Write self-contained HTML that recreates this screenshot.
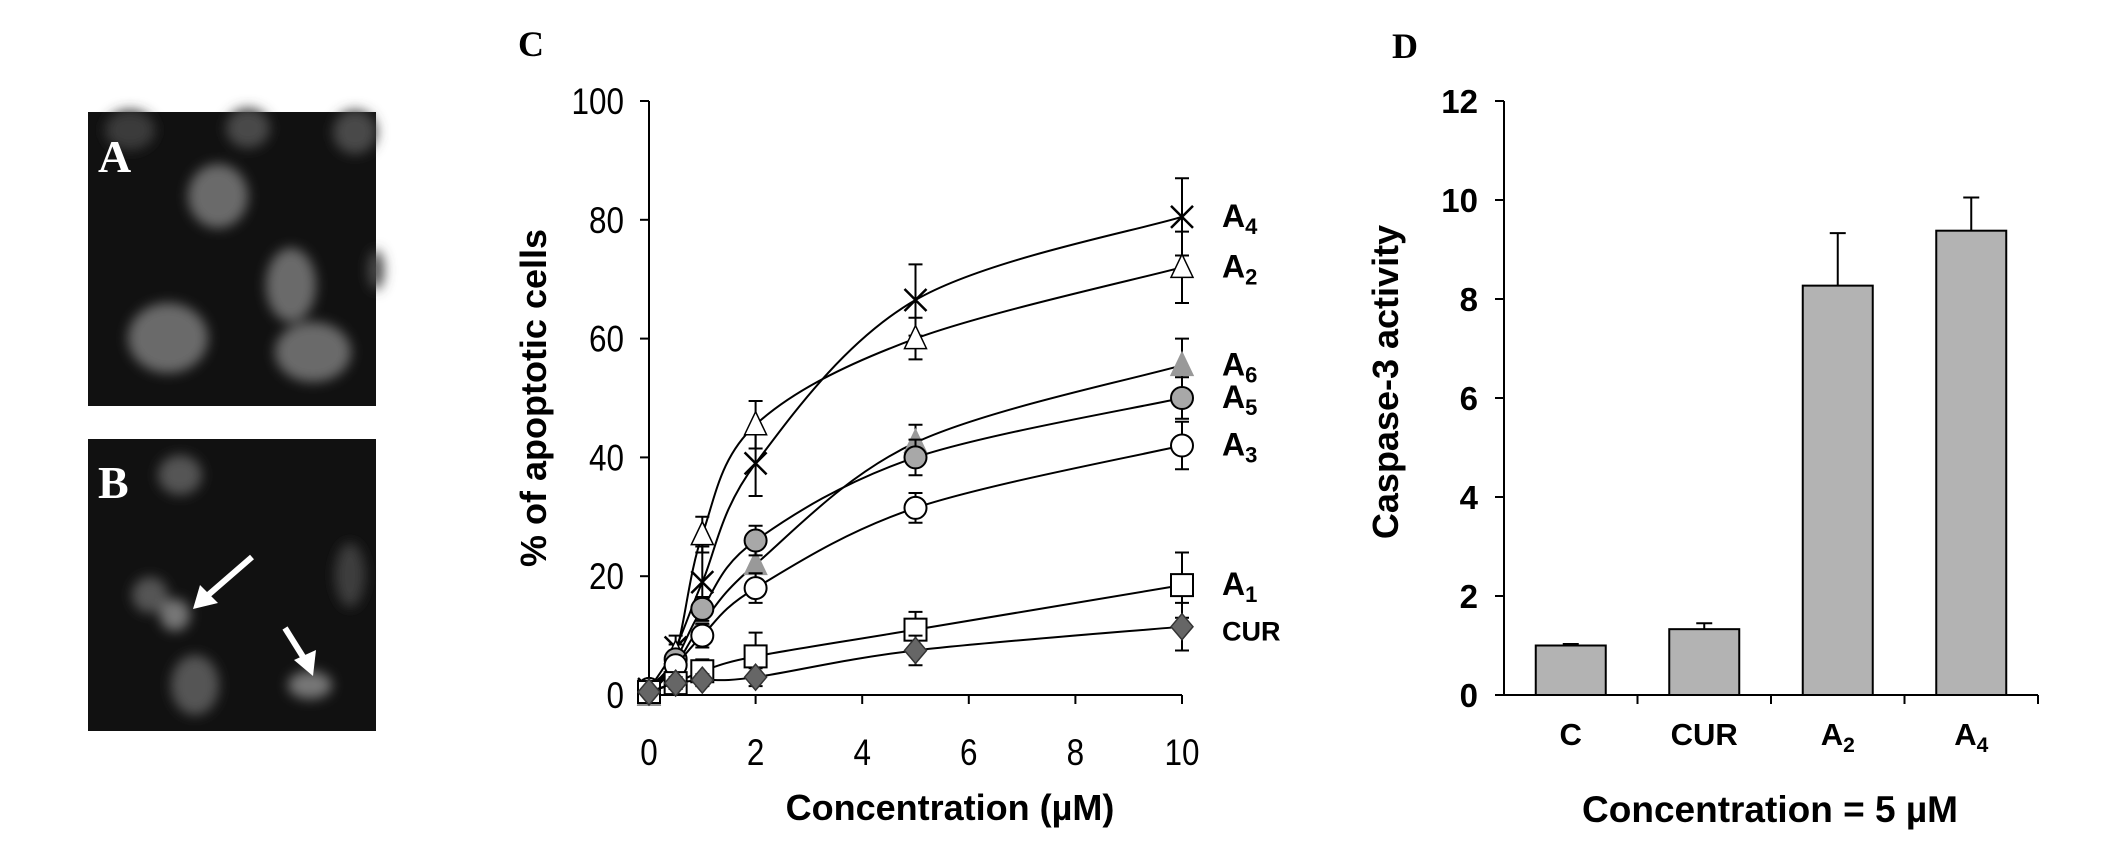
<!DOCTYPE html>
<html><head><meta charset="utf-8">
<style>
html,body{margin:0;padding:0;background:#fff;}
svg{display:block;}
</style></head>
<body>
<svg id="fig" width="2126" height="857" viewBox="0 0 2126 857" xmlns="http://www.w3.org/2000/svg">
<defs>
<filter id="blur" x="-50%" y="-50%" width="200%" height="200%"><feGaussianBlur stdDeviation="6"/></filter>
</defs>
<g>
<rect x="88" y="112" width="288" height="294" fill="#111"/>
<g filter="url(#blur)" fill="#6a6a6a">
<ellipse cx="218" cy="196" rx="30" ry="32"/>
<ellipse cx="291" cy="285" rx="25" ry="37"/>
<ellipse cx="168" cy="338" rx="40" ry="35"/>
<ellipse cx="313" cy="352" rx="38" ry="30"/>
<ellipse cx="248" cy="128" rx="22" ry="20" fill="#4a4a4a"/>
<ellipse cx="355" cy="132" rx="22" ry="22" fill="#4a4a4a"/>
<ellipse cx="376" cy="270" rx="8" ry="20" fill="#4a4a4a"/>
<ellipse cx="130" cy="130" rx="25" ry="20" fill="#3a3a3a"/>
</g>
<text x="98" y="172" font-family="Liberation Serif, serif" font-weight="bold" font-size="46" fill="#fff">A</text>
</g>
<g>
<rect x="88" y="439" width="288" height="292" fill="#111"/>
<g filter="url(#blur)" fill="#555">
<ellipse cx="180" cy="475" rx="22" ry="20"/>
<ellipse cx="150" cy="595" rx="18" ry="18"/>
<ellipse cx="175" cy="615" rx="15" ry="16" fill="#777"/>
<ellipse cx="195" cy="685" rx="24" ry="30"/>
<ellipse cx="310" cy="685" rx="22" ry="14" fill="#777"/>
<ellipse cx="350" cy="575" rx="15" ry="32" fill="#3c3c3c"/>
</g>
<text x="98" y="498" font-family="Liberation Serif, serif" font-weight="bold" font-size="46" fill="#fff">B</text>
<path d="M252,557 L207,596" stroke="#fff" stroke-width="6"/>
<polygon points="193,609 200,585 218,603" fill="#fff"/>
<path d="M285,628 L305,660" stroke="#fff" stroke-width="6"/>
<polygon points="313,676 294,660 316,650" fill="#fff"/>
</g>
<text x="518" y="56" font-family="Liberation Serif, serif" font-weight="bold" font-size="36">C</text>
<text x="1392" y="58" font-family="Liberation Serif, serif" font-weight="bold" font-size="36">D</text>
<g id="chartC"></g>
<g id="chartD"></g>
</svg>
<script>
// ---- Chart C data ----
const concs = [0, 0.5, 1, 2, 5, 10];
const xTicksC = [0, 2, 4, 6, 8, 10];
const yTicksC = [0, 20, 40, 60, 80, 100];
const seriesNames = ['A4', 'A2', 'A6', 'A5', 'A3', 'A1', 'CUR'];
const valA4 = [1, 8, 19, 39, 66.5, 80.5];
const errA4 = [0, 2, 6, 5.5, 6, 6.5];
const valA2 = [0, 7, 27, 45.5, 60, 72];
const errA2 = [0, 1.5, 3, 4, 3.5, 6];
const valA6 = [0, 5, 12, 22, 42.5, 55.5];
const errA6 = [0, 1, 2, 3, 3, 4.5];
const valA5 = [1, 6, 14.5, 26, 40, 50];
const errA5 = [0, 1, 2, 2.5, 3, 3.5];
const valA3 = [1, 5, 10, 18, 31.5, 42];
const errA3 = [0, 1, 2, 2.5, 2.5, 4];
const valA1 = [0.5, 2, 4, 6.5, 11, 18.5];
const errA1 = [0, 1, 2, 4, 3, 5.5];
const valCUR = [0.5, 2, 2.5, 3, 7.5, 11.5];
const errCUR = [0, 1, 1, 1.5, 2.5, 4];
// ---- Chart D data ----
const groups = ['C', 'CUR', 'A2', 'A4'];
const caspase = [1.0, 1.33, 8.27, 9.38];
const caspaseErr = [0.03, 0.12, 1.06, 0.67];
const yTicksD = [0, 2, 4, 6, 8, 10, 12];

const NS = 'http://www.w3.org/2000/svg';
function mk(tag, attrs, parent, txt) {
  const e = document.createElementNS(NS, tag);
  for (const k in attrs) e.setAttribute(k, attrs[k]);
  if (txt !== undefined) e.textContent = txt;
  parent.appendChild(e);
  return e;
}
const C = document.getElementById('chartC');
const X0 = 649, X1 = 1182, Y0 = 695, Y1 = 101;
const sx = v => X0 + v / 10 * (X1 - X0);
const sy = v => Y0 - v / 100 * (Y0 - Y1);
const tickFont = 'Liberation Sans, Arial, sans-serif';

let ax = mk('path', {d: `M${X0},${Y1} V${Y0} H${X1}`, stroke: '#000', 'stroke-width': 2, fill: 'none'}, C);


yTicksC.forEach(t => {
  mk('line', {x1: X0 - 9, x2: X0, y1: sy(t), y2: sy(t), stroke: '#000', 'stroke-width': 2}, C);
  const l = mk('text', {x: 624 / 0.85, y: sy(t) + 13, 'text-anchor': 'end', 'font-family': tickFont, 'font-size': 37, transform: 'scale(0.85,1)'}, C, t);
  
  
});
xTicksC.forEach(t => {
  mk('line', {x1: sx(t), x2: sx(t), y1: Y0, y2: Y0 + 9, stroke: '#000', 'stroke-width': 2}, C);
  const l = mk('text', {x: sx(t) / 0.85, y: 765, 'text-anchor': 'middle', 'font-family': tickFont, 'font-size': 37, transform: 'scale(0.85,1)'}, C, t);
  
  
});
let xt = mk('text', {x: 950, y: 820, 'text-anchor': 'middle', 'font-family': tickFont, 'font-weight': 'bold', 'font-size': 36}, C, 'Concentration (µM)');


let yt = mk('text', {x: 0, y: 0, 'text-anchor': 'middle', 'font-family': tickFont, 'font-weight': 'bold', 'font-size': 36, transform: 'translate(546,398) rotate(-90)'}, C, '% of apoptotic cells');



function smoothPath(pts) {
  let d = `M${pts[0][0]},${pts[0][1]}`;
  for (let i = 0; i < pts.length - 1; i++) {
    const p0 = pts[Math.max(0, i - 1)], p1 = pts[i], p2 = pts[i + 1], p3 = pts[Math.min(pts.length - 1, i + 2)];
    const c1 = [p1[0] + (p2[0] - p0[0]) / 6, p1[1] + (p2[1] - p0[1]) / 6];
    const c2 = [p2[0] - (p3[0] - p1[0]) / 6, p2[1] - (p3[1] - p1[1]) / 6];
    d += ` C${c1[0]},${c1[1]} ${c2[0]},${c2[1]} ${p2[0]},${p2[1]}`;
  }
  return d;
}
function marker(g, kind, x, y) {
  const r = 11;
  if (kind === 'x') {
    mk('path', {d: `M${x-r},${y-r} L${x+r},${y+r} M${x-r},${y+r} L${x+r},${y-r}`, stroke: '#000', 'stroke-width': 2.5}, g);
  } else if (kind === 'triOpen' || kind === 'triGray') {
    mk('polygon', {points: `${x},${y-r-2} ${x+r},${y+r-1} ${x-r},${y+r-1}`, fill: kind === 'triOpen' ? '#fff' : '#999', stroke: kind === 'triOpen' ? '#000' : '#999', 'stroke-width': 1.5}, g);
  } else if (kind === 'circGray' || kind === 'circOpen') {
    mk('circle', {cx: x, cy: y, r: r, fill: kind === 'circOpen' ? '#fff' : '#a8a8a8', stroke: '#000', 'stroke-width': 2}, g);
  } else if (kind === 'square') {
    mk('rect', {x: x - r, y: y - r, width: 2 * r, height: 2 * r, fill: '#fff', stroke: '#000', 'stroke-width': 2}, g);
  } else if (kind === 'diamond') {
    mk('polygon', {points: `${x},${y-r-2} ${x+r},${y} ${x},${y+r+2} ${x-r},${y}`, fill: '#666', stroke: '#333', 'stroke-width': 1.5}, g);
  }
}
const seriesVals = [valA4, valA2, valA6, valA5, valA3, valA1, valCUR];
const seriesErrs = [errA4, errA2, errA6, errA5, errA3, errA1, errCUR];
const kinds = ['x', 'triOpen', 'triGray', 'circGray', 'circOpen', 'square', 'diamond'];
const labelDy = [0, 0, 0, 0, 0, 0, 4];
seriesNames.forEach((name, si) => {
  const g = mk('g', {}, C);
  
  
  const vals = seriesVals[si], errs = seriesErrs[si];
  const pts = concs.map((c, i) => [sx(c), sy(vals[i])]);
  mk('path', {d: smoothPath(pts), stroke: '#000', 'stroke-width': 2, fill: 'none'}, g);
  concs.forEach((c, i) => {
    if (errs[i] > 0) {
      const x = sx(c);
      mk('path', {d: `M${x},${sy(vals[i]-errs[i])} V${sy(vals[i]+errs[i])} M${x-7},${sy(vals[i]+errs[i])} H${x+7} M${x-7},${sy(vals[i]-errs[i])} H${x+7}`, stroke: '#000', 'stroke-width': 2, fill: 'none'}, g);
    }
  });
  concs.forEach((c, i) => marker(g, kinds[si], sx(c), sy(vals[i])));
  const ly = sy(vals[vals.length - 1]) + 10 + labelDy[si];
  const lab = mk('text', {x: 1222, y: ly, 'font-family': tickFont, 'font-weight': 'bold', 'font-size': name === 'CUR' ? 27 : 32}, g);
  
  
  if (name === 'CUR') { lab.textContent = 'CUR'; }
  else {
    mk('tspan', {}, lab, name[0]);
    mk('tspan', {dy: 7, 'font-size': 22}, lab, name.slice(1));
  }
});

// ---- Chart D ----
const D = document.getElementById('chartD');
const DX0 = 1504, DX1 = 2038, DY0 = 695, DY1 = 101;
const dy = v => DY0 - v / 12 * (DY0 - DY1);
const band = (DX1 - DX0) / groups.length;
let dax = mk('path', {d: `M${DX0},${DY1} V${DY0} H${DX1}`, stroke: '#000', 'stroke-width': 2, fill: 'none'}, D);


yTicksD.forEach(t => {
  mk('line', {x1: DX0 - 9, x2: DX0, y1: dy(t), y2: dy(t), stroke: '#000', 'stroke-width': 2}, D);
  const l = mk('text', {x: 1478, y: dy(t) + 12, 'text-anchor': 'end', 'font-family': tickFont, 'font-weight': 'bold', 'font-size': 33}, D, t);
  
  
});
for (let i = 1; i <= groups.length; i++) {
  mk('line', {x1: DX0 + i * band, x2: DX0 + i * band, y1: DY0, y2: DY0 + 9, stroke: '#000', 'stroke-width': 2}, D);
}
groups.forEach((g, i) => {
  const cx = DX0 + band * (i + 0.5), bw = 70;
  const bar = mk('rect', {x: cx - bw / 2, y: dy(caspase[i]), width: bw, height: DY0 - dy(caspase[i]), fill: '#b3b3b3', stroke: '#000', 'stroke-width': 2}, D);
  
  
  const top = caspase[i] + caspaseErr[i];
  mk('path', {d: `M${cx},${dy(caspase[i])} V${dy(top)} M${cx-8},${dy(top)} H${cx+8}`, stroke: '#000', 'stroke-width': 2, fill: 'none'}, D);
  const lab = mk('text', {x: cx, y: 745, 'text-anchor': 'middle', 'font-family': tickFont, 'font-weight': 'bold', 'font-size': 31}, D);
  
  
  if (g.length === 2 && g[0] === 'A') {
    mk('tspan', {}, lab, 'A');
    mk('tspan', {dy: 7, 'font-size': 21}, lab, g[1]);
  } else lab.textContent = g;
});
let dxt = mk('text', {x: 1770, y: 822, 'text-anchor': 'middle', 'font-family': tickFont, 'font-weight': 'bold', 'font-size': 37}, D, 'Concentration = 5 µM');


let dyt = mk('text', {x: 0, y: 0, 'text-anchor': 'middle', 'font-family': tickFont, 'font-weight': 'bold', 'font-size': 36, transform: 'translate(1398,382) rotate(-90)'}, D, 'Caspase-3 activity');


</script>
</body></html>
